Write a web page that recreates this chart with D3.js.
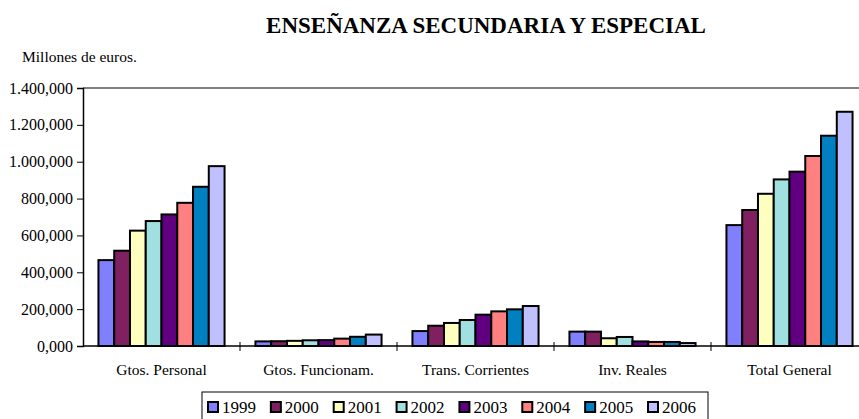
<!DOCTYPE html>
<html>
<head>
<meta charset="utf-8">
<script src="https://cdn.jsdelivr.net/npm/d3@7"></script>
<style>
  html, body { margin: 0; padding: 0; background: #fff; }
  svg { display: block; font-family: "Liberation Serif", "Times New Roman", serif; }
</style>
</head>
<body>
<svg id="chart" width="859" height="419"></svg>
<script>
const categories = ["Gtos. Personal", "Gtos. Funcionam.", "Trans. Corrientes", "Inv. Reales", "Total General"];
const years = ["1999", "2000", "2001", "2002", "2003", "2004", "2005", "2006"];
const colors = ["#8080FF", "#802060", "#FFFFC0", "#A0E0E0", "#600080", "#FF8080", "#0080C0", "#C0C0FF"];
// values (millones de euros) per year, in order of categories
const v1999 = [466, 25, 81, 78, 656];
const v2000 = [517, 26, 110, 78, 738];
const v2001 = [626, 28, 125, 42, 826];
const v2002 = [678, 31, 141, 49, 904];
const v2003 = [714, 32, 170, 25, 946];
const v2004 = [777, 40, 188, 22, 1031];
const v2005 = [864, 50, 199, 22, 1141];
const v2006 = [976, 62, 217, 16, 1271];
const seriesValues = [v1999, v2000, v2001, v2002, v2003, v2004, v2005, v2006];
const yTicks = [0, 200, 400, 600, 800, 1000, 1200, 1400];
const title = "ENSEÑANZA SECUNDARIA Y ESPECIAL";
const unitLabel = "Millones de euros.";

(function () {
const svg = d3.select("#chart");
const W = 859;
const pLeft = 83, pRight = 868, pTop = 88, pBottom = 346;

const x0 = d3.scaleBand().domain(categories).range([pLeft, pRight]).padding(0);
const x1 = d3.scaleBand().domain(years).range([0, x0.bandwidth()]).paddingInner(0).paddingOuter(0.98);
const y = d3.scaleLinear().domain([0, 1400]).range([pBottom, pTop]);

const loc = d3.formatLocale({decimal: ",", thousands: ".", grouping: [3], currency: ["", "€"]});
const fmt = loc.format(",.3f");

// title
svg.append("text").attr("x", 486).attr("y", 33).attr("text-anchor", "middle")
  .attr("font-size", 23).attr("font-weight", "bold").text(title);
svg.append("text").attr("x", 22).attr("y", 62).attr("font-size", 15.5).text(unitLabel);

// top border line
svg.append("line").attr("x1", pLeft).attr("x2", W).attr("y1", pTop).attr("y2", pTop)
  .attr("stroke", "#808080").attr("stroke-width", 2);

// bars
const rows = [];
years.forEach((yr, i) => categories.forEach((c, j) => rows.push({yr, c, v: seriesValues[i][j], col: colors[i]})));
svg.append("g").selectAll("rect").data(rows).join("rect")
  .attr("x", d => x0(d.c) + x1(d.yr))
  .attr("y", d => y(d.v))
  .attr("width", x1.bandwidth())
  .attr("height", d => pBottom - y(d.v))
  .attr("fill", d => d.col)
  .attr("stroke", "#000").attr("stroke-width", 2);

// y axis
const yAxis = d3.axisLeft(y).tickValues(yTicks).tickFormat(fmt).tickSize(6).tickPadding(4);
const gy = svg.append("g").attr("transform", `translate(${pLeft},0)`).call(yAxis);
gy.select(".domain").attr("stroke", "#000").attr("stroke-width", 1.5);
gy.selectAll(".tick line").attr("stroke", "#000");
gy.selectAll(".tick text").attr("font-size", 16).attr("font-family", "Liberation Serif").attr("fill", "#000");

// x axis
svg.append("line").attr("x1", pLeft).attr("x2", W).attr("y1", pBottom).attr("y2", pBottom)
  .attr("stroke", "#000").attr("stroke-width", 1.5);
svg.append("g").selectAll("line").data(categories.slice(1)).join("line")
  .attr("x1", d => x0(d)).attr("x2", d => x0(d))
  .attr("y1", pBottom - 4).attr("y2", pBottom + 5)
  .attr("stroke", "#000").attr("stroke-width", 1);
svg.append("g").selectAll("text").data(categories).join("text")
  .attr("x", d => x0(d) + x0.bandwidth() / 2)
  .attr("y", 375).attr("text-anchor", "middle").attr("font-size", 15.5)
  .text(d => d);

// legend
const lg = svg.append("g");
lg.append("rect").attr("x", 202).attr("y", 392).attr("width", 506).attr("height", 40)
  .attr("fill", "#fff").attr("stroke", "#000").attr("stroke-width", 1);
const lx = d3.scalePoint().domain(years).range([208, 648]);
const items = lg.selectAll("g.item").data(years).join("g").attr("class", "item")
  .attr("transform", d => `translate(${lx(d)},0)`);
items.append("rect").attr("x", 0).attr("y", 402).attr("width", 10).attr("height", 10)
  .attr("fill", (d, i) => colors[i]).attr("stroke", "#000").attr("stroke-width", 2);
items.append("text").attr("x", 14).attr("y", 413).attr("font-size", 17).text(d => d);
})();
</script>
</body>
</html>
